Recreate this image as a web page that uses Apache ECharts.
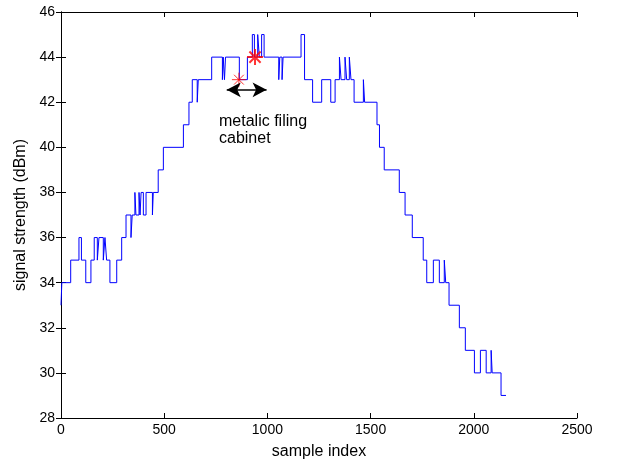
<!DOCTYPE html>
<html>
<head>
<meta charset="utf-8">
<script src="https://cdn.jsdelivr.net/npm/echarts@6/dist/echarts.min.js"></script>
<style>
html,body{margin:0;padding:0;background:#fff;}
#chart{width:619px;height:466px;}
</style>
</head>
<body>
<div id="chart"></div>
<script>
// step change points: sample index where the value changes, and the new value
var sampleIndex = [0,4,47,87,99,120,145,161,176,184,205,213,221,237,270,294,315,339,345,358,363,378,383,388,399,412,443,447,471,496,593,620,636,660,665,730,782,786,792,797,864,903,927,937,953,961,972,984,1055,1060,1071,1076,1163,1180,1219,1263,1307,1328,1349,1357,1376,1384,1397,1405,1420,1465,1471,1531,1543,1566,1639,1667,1702,1755,1772,1804,1833,1857,1864,1880,1930,1959,2003,2032,2060,2084,2089,2132,2156];
var signalDbm   = [33,34,35,36,35,34,35,36,35,36,35,36,35,34,35,36,37,36,37,38,37,38,37,38,37,38,37,38,39,40,41,42,43,42,43,44,43,44,43,44,43,44,45,44,45,44,45,44,43,44,43,44,45,43,42,43,42,43,44,43,44,43,44,43,42,43,42,41,40,39,38,37,36,35,34,35,34,35,34,33,32,31,30,31,30,31,30,29,29];
var starX = [862, 940];
var starY = [43, 44];
var arrowX = [803, 996];
var arrowY = 42.55;
var xTicks = [0, 500, 1000, 1500, 2000, 2500];
var yTicks = [28, 30, 32, 34, 36, 38, 40, 42, 44, 46];
var annotation = ['metalic filing', 'cabinet'];

var font = 'Liberation Sans, Arial, Helvetica, sans-serif';
var lineData = sampleIndex.map(function (x, i) { return [x, signalDbm[i]]; });
var starData = starX.map(function (x, i) {
  return { value: [x, starY[i]], symbolSize: i === 0 ? 14 : 16, itemStyle: { borderWidth: i === 0 ? 1 : 2 } };
});
var starPath = 'path://M10,0L10,20M0,10L20,10M3,3L17,17M3,17L17,3';
var plain = function (v) { return String(v); };

var chart = echarts.init(document.getElementById('chart'), null, { renderer: 'canvas' });
var axisCommon = {
  axisLine: { show: true, lineStyle: { color: '#000', width: 1 } },
  axisTick: { show: true, inside: true, length: 5, lineStyle: { color: '#000', width: 1 } },
  splitLine: { show: false }
};
chart.setOption({
  animation: false,
  backgroundColor: '#fff',
  grid: { left: 61, right: 42, top: 12, bottom: 48, containLabel: false },
  xAxis: [
    Object.assign({
      type: 'value', min: xTicks[0], max: xTicks[xTicks.length - 1], interval: xTicks[1] - xTicks[0],
      position: 'bottom',
      name: 'sample index', nameLocation: 'middle', nameGap: 26,
      nameTextStyle: { fontFamily: font, fontSize: 16, color: '#000' },
      axisLabel: { fontFamily: font, fontSize: 14, color: '#000', margin: 5, formatter: plain }
    }, axisCommon),
    Object.assign({
      type: 'value', min: xTicks[0], max: xTicks[xTicks.length - 1], interval: xTicks[1] - xTicks[0],
      position: 'top', axisLabel: { show: false }
    }, axisCommon)
  ],
  yAxis: [
    Object.assign({
      type: 'value', min: yTicks[0], max: yTicks[yTicks.length - 1], interval: yTicks[1] - yTicks[0],
      position: 'left',
      name: 'signal strength (dBm)', nameLocation: 'middle', nameGap: 31,
      nameTextStyle: { fontFamily: font, fontSize: 16, color: '#000' },
      axisLabel: { fontFamily: font, fontSize: 14, color: '#000', margin: 6, formatter: plain }
    }, axisCommon),
    Object.assign({
      type: 'value', min: yTicks[0], max: yTicks[yTicks.length - 1], interval: yTicks[1] - yTicks[0],
      position: 'right', axisLabel: { show: false }
    }, axisCommon)
  ],
  series: [
    {
      type: 'line', data: lineData, step: 'end', showSymbol: false, symbol: 'none',
      lineStyle: { color: '#0000ff', width: 1 }, z: 2,
      markLine: {
        silent: true, symbol: ['arrow', 'arrow'], symbolSize: [11, 14],
        label: { show: false },
        lineStyle: { color: '#000', width: 1.5, type: 'solid' },
        itemStyle: { color: '#000' },
        data: [[{ coord: [arrowX[0], arrowY] }, { coord: [arrowX[1], arrowY] }]]
      }
    },
    {
      type: 'scatter', data: starData, symbol: starPath,
      itemStyle: { color: 'none', borderColor: '#ff0000' }, z: 3
    }
  ],
  graphic: [{
    type: 'text', left: 219, top: 113,
    style: { text: annotation.join('\n'), font: '16px ' + font, fill: '#000', lineHeight: 17 }
  }]
});
</script>
</body>
</html>
